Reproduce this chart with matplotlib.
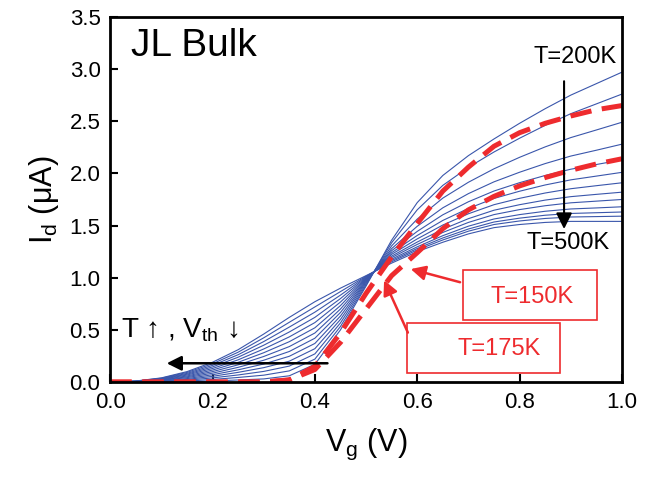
import matplotlib
matplotlib.use("Agg")
import matplotlib.pyplot as plt

plt.rcParams['font.family'] = ['Liberation Sans', 'DejaVu Sans']
plt.rcParams['mathtext.fontset'] = 'custom'
plt.rcParams['mathtext.rm'] = 'Liberation Sans'
plt.rcParams['mathtext.it'] = 'Liberation Sans'

# gate voltage grid (V)
vg = [0.0, 0.05, 0.1, 0.15, 0.2, 0.25, 0.3, 0.35, 0.4, 0.45, 0.5,
      0.55, 0.6, 0.65, 0.7, 0.75, 0.8, 0.85, 0.9, 0.95, 1.0]

# blue curves, T = 200K ... 500K step 25K, Id in uA
temps_blue = [200, 225, 250, 275, 300, 325, 350, 375, 400, 425, 450, 475, 500]
id_blue = [
    [0, 0, 0, 0, 0.01, 0.02, 0.03, 0.06, 0.17, 0.50, 0.92, 1.36, 1.72, 1.98, 2.17, 2.33, 2.48, 2.62, 2.75, 2.86, 2.97],
    [0, 0, 0.003, 0.008, 0.025, 0.044, 0.066, 0.107, 0.22, 0.533, 0.932, 1.335, 1.651, 1.885, 2.058, 2.205, 2.337, 2.46, 2.572, 2.666, 2.76],
    [0, 0, 0.007, 0.017, 0.04, 0.068, 0.102, 0.153, 0.27, 0.567, 0.945, 1.305, 1.562, 1.763, 1.915, 2.044, 2.154, 2.254, 2.343, 2.416, 2.49],
    [0, 0, 0.01, 0.025, 0.055, 0.093, 0.138, 0.20, 0.32, 0.60, 0.957, 1.279, 1.493, 1.670, 1.806, 1.919, 2.011, 2.094, 2.166, 2.222, 2.28],
    [0, 0, 0.013, 0.033, 0.07, 0.117, 0.173, 0.247, 0.37, 0.633, 0.966, 1.259, 1.444, 1.603, 1.728, 1.831, 1.911, 1.98, 2.04, 2.085, 2.13],
    [0, 0, 0.017, 0.042, 0.085, 0.141, 0.209, 0.293, 0.42, 0.667, 0.974, 1.24, 1.405, 1.549, 1.664, 1.76, 1.829, 1.889, 1.938, 1.974, 2.01],
    [0, 0.005, 0.02, 0.05, 0.10, 0.165, 0.245, 0.34, 0.47, 0.70, 0.982, 1.224, 1.372, 1.505, 1.613, 1.70, 1.761, 1.812, 1.853, 1.882, 1.91],
    [0, 0.006, 0.023, 0.058, 0.115, 0.189, 0.281, 0.387, 0.52, 0.733, 0.989, 1.207, 1.342, 1.465, 1.566, 1.647, 1.70, 1.744, 1.777, 1.799, 1.82],
    [0, 0.007, 0.027, 0.067, 0.13, 0.213, 0.317, 0.433, 0.57, 0.767, 0.996, 1.193, 1.319, 1.434, 1.530, 1.605, 1.653, 1.69, 1.718, 1.734, 1.75],
    [0, 0.008, 0.03, 0.075, 0.145, 0.238, 0.353, 0.48, 0.62, 0.80, 1.003, 1.178, 1.296, 1.403, 1.494, 1.563, 1.605, 1.637, 1.659, 1.669, 1.68],
    [0, 0.008, 0.033, 0.083, 0.16, 0.262, 0.388, 0.527, 0.67, 0.833, 1.009, 1.165, 1.28, 1.381, 1.467, 1.534, 1.571, 1.599, 1.616, 1.623, 1.63],
    [0, 0.009, 0.037, 0.092, 0.175, 0.286, 0.424, 0.573, 0.72, 0.867, 1.014, 1.153, 1.266, 1.362, 1.446, 1.51, 1.544, 1.568, 1.582, 1.586, 1.59],
    [0, 0.01, 0.04, 0.10, 0.19, 0.31, 0.46, 0.62, 0.77, 0.90, 1.02, 1.14, 1.25, 1.34, 1.42, 1.48, 1.51, 1.53, 1.54, 1.54, 1.54],
]

# red dashed curves
id_150k = [0, 0, 0, 0, 0, 0, 0, 0.02, 0.12, 0.38, 0.70, 1.02, 1.24, 1.47, 1.65, 1.78, 1.88, 1.96, 2.03, 2.09, 2.14]
id_175k = [0, 0, 0, 0, 0, 0, 0, 0.02, 0.15, 0.47, 0.85, 1.20, 1.52, 1.83, 2.06, 2.26, 2.39, 2.48, 2.55, 2.61, 2.65]

blue = '#3a56ab'
red = '#ee2b2e'

fig = plt.figure(figsize=(6.56, 4.83), dpi=100)
ax = fig.add_axes([0.168, 0.209, 0.780, 0.756])

for row in id_blue:
    ax.plot(vg, row, color=blue, lw=0.8)
ax.plot(vg, id_150k, color=red, lw=3.6, linestyle=(0, (4.3, 2.1)))
ax.plot(vg, id_175k, color=red, lw=3.6, linestyle=(0, (4.3, 2.1)))

ax.set_xlim(0, 1.0)
ax.set_ylim(0, 3.5)
ax.set_xticks([0.0, 0.2, 0.4, 0.6, 0.8, 1.0])
ax.set_yticks([0.0, 0.5, 1.0, 1.5, 2.0, 2.5, 3.0, 3.5])
ax.set_xticklabels(['0.0', '0.2', '0.4', '0.6', '0.8', '1.0'])
ax.set_yticklabels(['0.0', '0.5', '1.0', '1.5', '2.0', '2.5', '3.0', '3.5'])
ax.tick_params(direction='in', length=6, width=1.5, labelsize=16, pad=7)
for s in ax.spines.values():
    s.set_linewidth(2)

ax.set_xlabel('V$_\\mathrm{g}$ (V)', fontsize=22, labelpad=10)
ax.set_ylabel('I$_\\mathrm{d}$ (μA)', fontsize=22, labelpad=6)

ax.text(0.04, 3.22, 'JL Bulk', fontsize=28, va='center', ha='left')

# temperature arrow (200K -> 500K)
ax.annotate('', xy=(0.887, 1.44), xytext=(0.887, 2.91),
            arrowprops=dict(arrowstyle='-|>', color='black', lw=1.5, mutation_scale=24))
ax.text(0.908, 3.12, 'T=200K', fontsize=17, ha='center', va='center')
ax.text(0.895, 1.33, 'T=500K', fontsize=17, ha='center', va='center')

# T up, Vth down
ax.text(0.022, 0.5, 'T ↑ , V$_\\mathrm{th}$ ↓', fontsize=20, ha='left', va='center')
ax.annotate('', xy=(0.105, 0.18), xytext=(0.43, 0.18),
            arrowprops=dict(arrowstyle='-|>', color='black', lw=1.8, mutation_scale=22))

# red labels
ax.add_patch(plt.Rectangle((0.689, 0.595), 0.262, 0.478, fc='white', ec=red, lw=1.2, zorder=3))
ax.text(0.824, 0.815, 'T=150K', color=red, fontsize=17, ha='center', va='center', zorder=4)
ax.add_patch(plt.Rectangle((0.580, 0.086), 0.299, 0.48, fc='white', ec=red, lw=1.2, zorder=3))
ax.text(0.76, 0.316, 'T=175K', color=red, fontsize=17, ha='center', va='center', zorder=4)
ax.annotate('', xy=(0.582, 1.09), xytext=(0.689, 0.95),
            arrowprops=dict(arrowstyle='-|>', color=red, lw=1.8, mutation_scale=22))
ax.annotate('', xy=(0.533, 1.0), xytext=(0.584, 0.45),
            arrowprops=dict(arrowstyle='-|>', color=red, lw=1.8, mutation_scale=22))

fig.savefig('out.png', dpi=100)
